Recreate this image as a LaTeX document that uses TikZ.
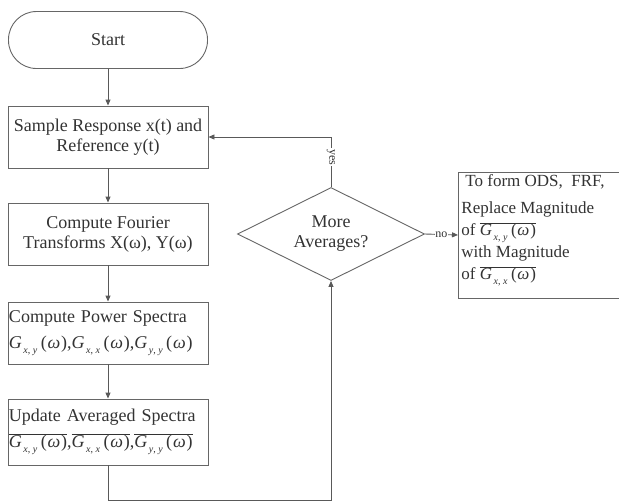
\documentclass[tikz,border=0pt]{standalone}
\usepackage{fontspec}
\setmainfont{Liberation Serif}
\usetikzlibrary{arrows.meta,shapes.geometric}
\newcommand{\Gsub}[2]{\textit{G}\kern1.5pt\raisebox{-4.5pt}{\fontsize{10}{10}\selectfont\textit{#1},\kern2.5pt\textit{#2}}\kern3.5pt(\kern0.8pt\textit{ω}\kern0.8pt)}
\newcommand{\Gbar}[2]{$\overline{\hbox{\Gsub{#1}{#2}}}$}
\begin{document}
\begin{tikzpicture}[x=1pt,y=-1pt,
  font=\fontsize{18}{20}\selectfont,
  every node/.style={text=black!80},
  line width=0.9pt,
  box/.style={draw=black!60, rectangle, minimum width=200pt, minimum height=62pt, inner sep=1pt},
  arr/.style={draw=black!65, -{Triangle[length=6pt,width=5pt]}},
  small/.style={font=\fontsize{12}{12}\selectfont}]
\useasboundingbox (0,0) rectangle (619,501);
\clip (0,0) rectangle (619,501);
\fill[white] (0,0) rectangle (619,501);

\node[draw=black!60, rounded corners=28pt, minimum width=199pt, minimum height=57pt] (start) at (108,40) {Start};
\node[box, align=center] (sample) at (108,137) {Sample Response x(t) and\\Reference y(t)};
\node[box, align=center] (fourier) at (108,234) {Compute Fourier\\Transforms X(ω), Y(ω)};
\node[box, align=left, text width=198pt] (power) at (108,333) {Compute Power Spectra\\[6pt]\Gsub{x}{y},\Gsub{x}{x},\Gsub{y}{y}};
\node[box, align=left, text width=198pt, minimum height=66pt] (update) at (108,432) {Update Averaged Spectra\\[6pt]\Gbar{x}{y},\Gbar{x}{x},\Gbar{y}{y}};
\node[diamond, draw=black!60, aspect=2, minimum width=187pt, minimum height=93pt, inner sep=0pt, align=center] (dec) at (331,234) {More\\Averages?};
\node[draw=black!60, anchor=west, minimum width=180pt, minimum height=126pt] (repl) at (458,235) {};
\node[anchor=north west, align=left, inner sep=3pt, font=\fontsize{17}{22}\selectfont] (repltext) at (repl.north west) {\hspace{4pt}To form ODS,\ \ FRF,\\[5pt]Replace Magnitude\\of \Gbar{x}{y}\\with Magnitude\\of \Gbar{x}{x}};

\draw[arr] (start) -- (sample);
\draw[arr] (sample) -- (fourier);
\draw[arr] (fourier) -- (power);
\draw[arr] (power) -- (update);
\coordinate (c1) at (108,500);
\coordinate (c2) at (331,500);
\draw[arr] (update.south) -- (c1) -- (c2) -- (dec.south);
\draw[arr] (dec.north) -- node[pos=0.6, small, rotate=-90, fill=white, inner sep=1pt] {yes} (dec.north |- sample.east) -- (sample.east);
\draw[arr] (dec.east) -- node[small, fill=white, inner sep=0.5pt] {no} (repl.west);
\end{tikzpicture}
\end{document}
